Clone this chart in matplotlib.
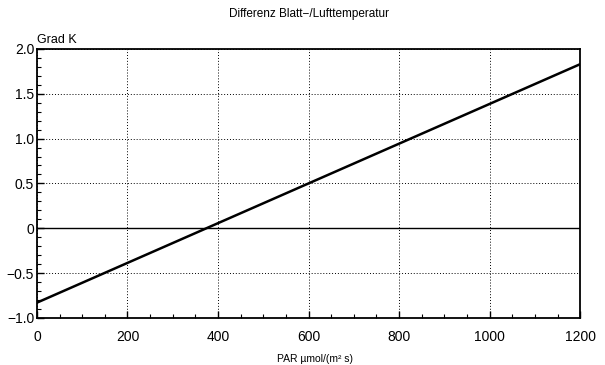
import matplotlib
matplotlib.use("Agg")
import matplotlib.pyplot as plt
from matplotlib.ticker import MultipleLocator, FixedLocator

plt.rcParams['font.family'] = ['Liberation Sans', 'DejaVu Sans']

# Data
x_vals = [0, 1200]
diff_vals = [-0.83, 1.83]
x_ticks = [0, 200, 400, 600, 800, 1000, 1200]
y_ticks = [-1.0, -0.5, 0.0, 0.5, 1.0, 1.5, 2.0]
y_tick_labels = ["\u22121.0", "\u22120.5", "0", "0.5", "1.0", "1.5", "2.0"]
title = "Differenz Blatt\u2212/Lufttemperatur"
y_unit = "Grad K"
x_label = "PAR \u00b5mol/(m\u00b2 s)"

fig = plt.figure(figsize=(6.05, 3.65), dpi=100)
ax = fig.add_axes([0.061, 0.129, 0.898, 0.737])

ax.plot(x_vals, diff_vals, color='black', lw=1.8)
ax.axhline(0, color='black', lw=1.0)

ax.set_xlim(0, 1200)
ax.set_ylim(-1.0, 2.0)
ax.xaxis.set_major_locator(FixedLocator(x_ticks))
ax.yaxis.set_major_locator(FixedLocator(y_ticks))
ax.set_yticklabels(y_tick_labels)
ax.xaxis.set_minor_locator(MultipleLocator(50))
ax.yaxis.set_minor_locator(MultipleLocator(0.1))
ax.tick_params(which='both', direction='in', colors='black', labelsize=10)
ax.tick_params(which='major', length=5, width=1, top=False, right=False)
ax.tick_params(which='minor', length=3, width=0.8)
ax.tick_params(axis='x', pad=9)
ax.tick_params(axis='y', pad=2)
ax.grid(True, which='major', linestyle=(0, (1, 2)), color='black', lw=0.7)
for s in ax.spines.values():
    s.set_linewidth(1.3)

fig.text(0.51, 0.962, title, ha='center', va='center', fontsize=8.5)
fig.text(0.061, 0.89, y_unit, ha='left', va='center', fontsize=9)
fig.text(0.52, 0.004, x_label, ha='center', va='bottom', fontsize=7.5)

fig.savefig("out.png", dpi=100, facecolor='white')
